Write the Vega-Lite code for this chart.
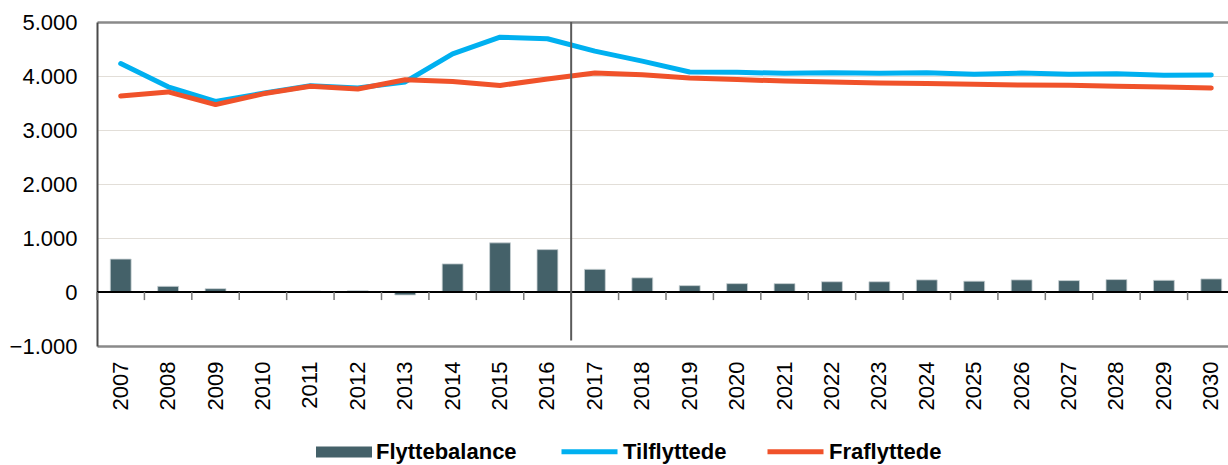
{
  "$schema": "https://vega.github.io/schema/vega-lite/v6.json",
  "autosize": {"type": "none"},
  "padding": {"left": 97, "top": 22, "right": 0, "bottom": 119},
  "width": 1131,
  "height": 324,
  "config": {
    "view": {"stroke": null},
    "font": "Liberation Sans"
  },
  "data": {
    "values": [
      {"year": 2007, "Tilflyttede": 4230, "Fraflyttede": 3630, "Flyttebalance": 610},
      {"year": 2008, "Tilflyttede": 3800, "Fraflyttede": 3705, "Flyttebalance": 105},
      {"year": 2009, "Tilflyttede": 3530, "Fraflyttede": 3470, "Flyttebalance": 62},
      {"year": 2010, "Tilflyttede": 3680, "Fraflyttede": 3670, "Flyttebalance": 12},
      {"year": 2011, "Tilflyttede": 3820, "Fraflyttede": 3810, "Flyttebalance": 18},
      {"year": 2012, "Tilflyttede": 3780, "Fraflyttede": 3760, "Flyttebalance": 22},
      {"year": 2013, "Tilflyttede": 3890, "Fraflyttede": 3930, "Flyttebalance": -55},
      {"year": 2014, "Tilflyttede": 4410, "Fraflyttede": 3900, "Flyttebalance": 520},
      {"year": 2015, "Tilflyttede": 4718, "Fraflyttede": 3825, "Flyttebalance": 910},
      {"year": 2016, "Tilflyttede": 4690, "Fraflyttede": 3945, "Flyttebalance": 785},
      {"year": 2017, "Tilflyttede": 4460, "Fraflyttede": 4055, "Flyttebalance": 420},
      {"year": 2018, "Tilflyttede": 4276, "Fraflyttede": 4025, "Flyttebalance": 262},
      {"year": 2019, "Tilflyttede": 4074, "Fraflyttede": 3963, "Flyttebalance": 118},
      {"year": 2020, "Tilflyttede": 4068, "Fraflyttede": 3933, "Flyttebalance": 155},
      {"year": 2021, "Tilflyttede": 4050, "Fraflyttede": 3908, "Flyttebalance": 155},
      {"year": 2022, "Tilflyttede": 4062, "Fraflyttede": 3890, "Flyttebalance": 190},
      {"year": 2023, "Tilflyttede": 4050, "Fraflyttede": 3871, "Flyttebalance": 190},
      {"year": 2024, "Tilflyttede": 4062, "Fraflyttede": 3860, "Flyttebalance": 224},
      {"year": 2025, "Tilflyttede": 4031, "Fraflyttede": 3847, "Flyttebalance": 200},
      {"year": 2026, "Tilflyttede": 4055, "Fraflyttede": 3834, "Flyttebalance": 224},
      {"year": 2027, "Tilflyttede": 4031, "Fraflyttede": 3828, "Flyttebalance": 211},
      {"year": 2028, "Tilflyttede": 4040, "Fraflyttede": 3810, "Flyttebalance": 230},
      {"year": 2029, "Tilflyttede": 4013, "Fraflyttede": 3797, "Flyttebalance": 217},
      {"year": 2030, "Tilflyttede": 4020, "Fraflyttede": 3779, "Flyttebalance": 242}
    ]
  },
  "layer": [
    {
      "mark": {"type": "bar", "width": {"band": 0.44}, "stroke": "#c9d2d4", "strokeWidth": 0.8},
      "encoding": {
        "x": {
          "field": "year", "type": "ordinal", "title": null,
          "scale": {"type": "band", "paddingInner": 0, "paddingOuter": 0, "range": [0, 1138]},
          "axis": {
            "ticks": false, "domain": false, "grid": false,
            "labelAngle": 270, "labelFontSize": 22, "labelPadding": 15,
            "labelColor": "#000000", "labelFont": "Liberation Sans"
          }
        },
        "y": {
          "field": "Flyttebalance", "type": "quantitative", "title": null,
          "scale": {"domain": [-1000, 5000], "nice": false, "zero": false},
          "axis": {
            "values": [-1000, 0, 1000, 2000, 3000, 4000, 5000],
            "labelExpr": "replace(format(datum.value, ','), ',', '.')",
            "ticks": false,
            "domain": true, "domainColor": "#4a4a4a", "domainWidth": 2,
            "grid": true,
            "gridColor": {"condition": {"test": "datum.value === 5000 || datum.value === -1000", "value": "#8a8a8a"}, "value": "#e2ded8"},
            "gridWidth": {"condition": {"test": "datum.value === 5000 || datum.value === -1000", "value": 2.5}, "value": 1.2},
            "labelFontSize": 22, "labelPadding": 20, "labelColor": "#000000",
            "labelFont": "Liberation Sans"
          }
        },
        "fill": {
          "datum": "Flyttebalance",
          "title": null,
          "scale": {"domain": ["Flyttebalance"], "range": ["#446169"]},
          "legend": {
            "title": null,
            "orient": "none",
            "legendX": 219,
            "legendY": 402,
            "direction": "horizontal",
            "padding": 0,
            "symbolType": "M-1,-0.2H1V0.2H-1Z",
            "symbolSize": 3136,
            "symbolStrokeWidth": 0,
            "symbolOpacity": 1,
            "labelOffset": 4,
            "labelFontSize": 22,
            "labelFontWeight": "bold",
            "labelColor": "#000000",
            "labelFont": "Liberation Sans"
          }
        }
      }
    },
    {
      "mark": {"type": "rule", "color": "#000000", "strokeWidth": 1.5},
      "encoding": {"y": {"datum": 0, "type": "quantitative", "title": null}}
    },
    {
      "mark": {"type": "rule", "color": "#7a7a7a", "strokeWidth": 1.5},
      "encoding": {
        "x": {"field": "year", "type": "ordinal", "bandPosition": 0, "title": null},
        "y": {"datum": 0, "type": "quantitative", "title": null},
        "y2": {"datum": -150}
      }
    },
    {
      "transform": [{"fold": ["Tilflyttede", "Fraflyttede"], "as": ["serie", "antal"]}],
      "mark": {"type": "line", "strokeWidth": 5, "strokeCap": "round", "strokeJoin": "round"},
      "encoding": {
        "x": {"field": "year", "type": "ordinal", "title": null},
        "y": {"field": "antal", "type": "quantitative", "title": null},
        "stroke": {
          "field": "serie", "type": "nominal", "title": null,
          "scale": {"domain": ["Tilflyttede", "Fraflyttede"], "range": ["#00b0f0", "#f0522a"]},
          "legend": {
            "title": null,
            "orient": "none",
            "legendX": 462,
            "legendY": 399,
            "direction": "horizontal",
            "padding": 0,
            "columnPadding": 30,
            "symbolType": "stroke",
            "symbolSize": 3136,
            "symbolStrokeWidth": 5,
            "symbolOpacity": 1,
            "labelOffset": 3,
            "labelFontSize": 22,
            "labelFontWeight": "bold",
            "labelColor": "#000000",
            "labelFont": "Liberation Sans"
          }
        }
      }
    },
    {
      "transform": [{"filter": "datum.year === 2016"}],
      "mark": {"type": "rule", "color": "#5a5a5a", "strokeWidth": 2},
      "encoding": {
        "x": {"field": "year", "type": "ordinal", "bandPosition": 1, "title": null},
        "y": {"datum": 5000, "type": "quantitative", "title": null},
        "y2": {"datum": -900}
      }
    }
  ]
}
